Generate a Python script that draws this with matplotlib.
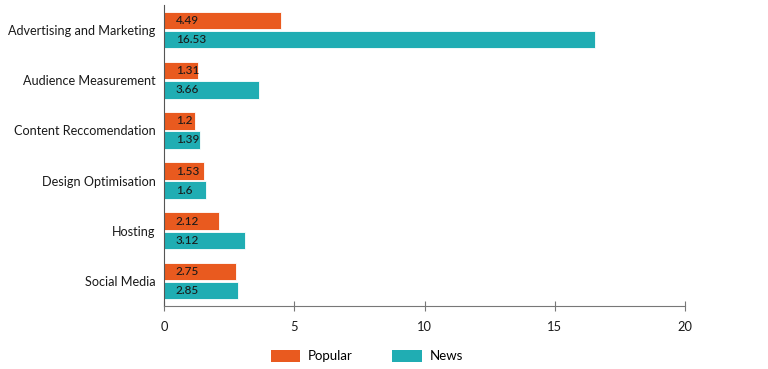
import matplotlib
matplotlib.use("Agg")
import matplotlib.pyplot as plt
import numpy as np
from matplotlib.patches import Patch

categories = ["Advertising and Marketing", "Audience Measurement", "Content Reccomendation",
              "Design Optimisation", "Hosting", "Social Media"]
popular = [4.49, 1.31, 1.2, 1.53, 2.12, 2.75]
news = [16.53, 3.66, 1.39, 1.6, 3.12, 2.85]
x_ticks = [0, 5, 10, 15, 20]

orange = "#E95A1F"
teal = "#20ADB3"
txt = "#1a1a1a"

plt.rcParams['font.family'] = ['Lato', 'DejaVu Sans']

fig = plt.figure(figsize=(7.68, 3.69), dpi=100)
ax = fig.add_axes([164/768, 1 - 306/369, (685-164)/768, (306-5)/369])

y = np.arange(len(categories))
h = 0.35
ax.barh(y - 0.19, popular, height=h, color=orange, edgecolor="white", linewidth=0.6)
ax.barh(y + 0.19, news, height=h, color=teal, edgecolor="white", linewidth=0.6)

for i in range(len(categories)):
    ax.text(0.45, y[i] - 0.19, f"{popular[i]:g}", va="center", ha="left", fontsize=8.5,
            color=txt, fontweight="medium")
    ax.text(0.45, y[i] + 0.19, f"{news[i]:g}", va="center", ha="left", fontsize=8.5,
            color=txt, fontweight="medium")

ax.set_ylim(5.5, -0.5)
ax.set_xlim(0, 20)
ax.set_yticks(y)
ax.set_yticklabels(categories, fontsize=9.1, color=txt)
ax.set_xticks(x_ticks)
ax.set_xticklabels([str(t) for t in x_ticks], fontsize=9.3, color=txt)
ax.tick_params(axis="y", length=0, pad=6)
ax.tick_params(axis="x", direction="inout", length=7, width=0.8, color="#777777", pad=7)

for s in ["top", "right"]:
    ax.spines[s].set_visible(False)
ax.spines["left"].set_color("#555555")
ax.spines["bottom"].set_color("#777777")
ax.spines["left"].set_linewidth(0.8)
ax.spines["bottom"].set_linewidth(0.8)

handles = [Patch(facecolor=orange, label="Popular"), Patch(facecolor=teal, label="News")]
fig.legend(handles=handles, loc="center", bbox_to_anchor=(367/768, 1 - 356/369), ncol=2,
           frameon=False, fontsize=9.5, handlelength=2.2, handleheight=1.1,
           columnspacing=3.0, handletextpad=0.6)

fig.savefig("out.png", dpi=100)
